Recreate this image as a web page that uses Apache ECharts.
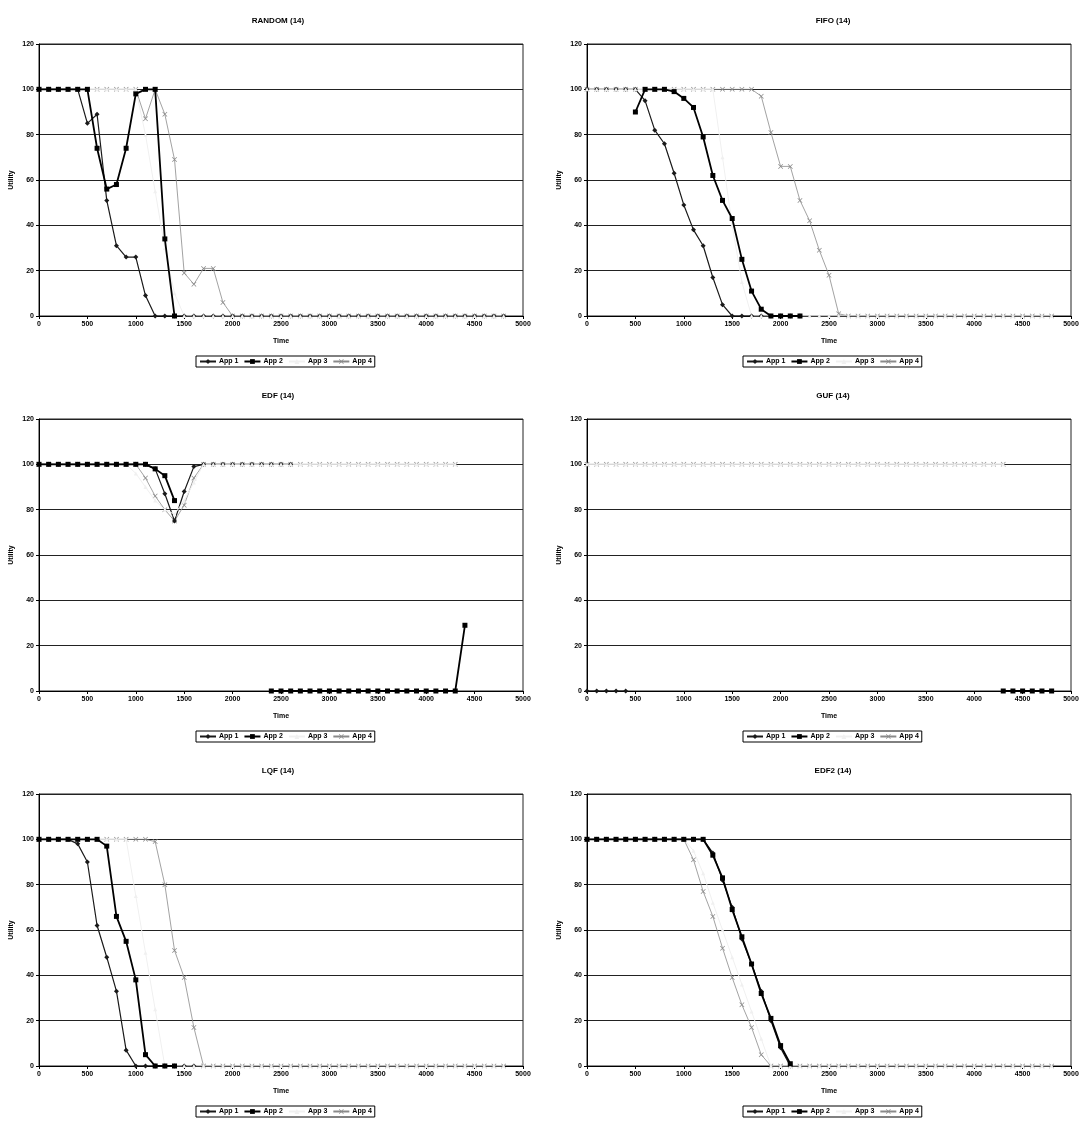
<!DOCTYPE html>
<html lang="en">
<head>
    <meta charset="UTF-8">
    <title>Utility per scheduler</title>
    <script src="https://cdn.jsdelivr.net/npm/echarts@6/dist/echarts.min.js"></script>
    <style>
        body { margin: 0; background: #fff; }
        #main { width: 1082px; height: 1122px; }
    </style>
</head>
<body>
    <div id="main"></div>

    <script>
        var N = null;

        var times = [0, 100, 200, 300, 400, 500, 600, 700, 800, 900,
            1000, 1100, 1200, 1300, 1400, 1500, 1600, 1700, 1800, 1900,
            2000, 2100, 2200, 2300, 2400, 2500, 2600, 2700, 2800, 2900,
            3000, 3100, 3200, 3300, 3400, 3500, 3600, 3700, 3800, 3900,
            4000, 4100, 4200, 4300, 4400, 4500, 4600, 4700, 4800];

        var appNames = ['App 1', 'App 2', 'App 3', 'App 4'];
        var panelTitles = ['RANDOM (14)', 'FIFO (14)', 'EDF (14)', 'GUF (14)', 'LQF (14)', 'EDF2 (14)'];

        // RANDOM
        var randomApp1 = [100, 100, 100, 100, 100, 85, 89, 51, 31, 26,
            26, 9, 0, 0, 0, 0, 0, 0, 0, 0,
            0, 0, 0, 0, 0, 0, 0, 0, 0, 0,
            0, 0, 0, 0, 0, 0, 0, 0, 0, 0,
            0, 0, 0, 0, 0, 0, 0, 0, 0];
        var randomApp2 = [100, 100, 100, 100, 100, 100, 74, 56, 58, 74,
            98, 100, 100, 34, 0, N, N, N, N, N,
            N, N, N, N, N, N, N, N, N, N,
            N, N, N, N, N, N, N, N, N, N,
            N, N, N, N, N, N, N, N, N];
        var randomApp3 = [100, 100, 100, 100, 100, 100, 100, 100, 100, 100,
            100, 80, 55, 30, 10, 0, 0, 0, 0, 0,
            0, 0, 0, 0, 0, 0, 0, 0, 0, 0,
            0, 0, 0, 0, 0, 0, 0, 0, 0, 0,
            0, 0, 0, 0, 0, 0, 0, 0, 0];
        var randomApp4 = [100, 100, 100, 100, 100, 100, 100, 100, 100, 100,
            100, 87, 100, 89, 69, 19, 14, 21, 21, 6,
            0, 0, 0, 0, 0, 0, 0, 0, 0, 0,
            0, 0, 0, 0, 0, 0, 0, 0, 0, 0,
            0, 0, 0, 0, 0, 0, 0, 0, 0];

        // FIFO
        var fifoApp1 = [100, 100, 100, 100, 100, 100, 95, 82, 76, 63,
            49, 38, 31, 17, 5, 0, 0, 0, 0, 0,
            0, 0, 0, N, N, N, N, N, N, N,
            N, N, N, N, N, N, N, N, N, N,
            N, N, N, N, N, N, N, N, N];
        var fifoApp2 = [N, N, N, N, N, 90, 100, 100, 100, 99,
            96, 92, 79, 62, 51, 43, 25, 11, 3, 0,
            0, 0, 0, N, N, N, N, N, N, N,
            N, N, N, N, N, N, N, N, N, N,
            N, N, N, N, N, N, N, N, N];
        var fifoApp3 = [100, 100, 100, 100, 100, 100, 100, 100, 100, 100,
            100, 100, 100, 100, 70, 40, 15, 0, 0, 0,
            0, 0, 0, 0, 0, 0, 0, 0, 0, 0,
            0, 0, 0, 0, 0, 0, 0, 0, 0, 0,
            0, 0, 0, 0, 0, 0, 0, 0, 0];
        var fifoApp4 = [100, 100, 100, 100, 100, 100, 100, 100, 100, 100,
            100, 100, 100, 100, 100, 100, 100, 100, 97, 81,
            66, 66, 51, 42, 29, 18, 1, 0, 0, 0,
            0, 0, 0, 0, 0, 0, 0, 0, 0, 0,
            0, 0, 0, 0, 0, 0, 0, 0, 0];

        // EDF
        var edfApp1 = [100, 100, 100, 100, 100, 100, 100, 100, 100, 100,
            100, 100, 98, 87, 75, 88, 99, 100, 100, 100,
            100, 100, 100, 100, 100, 100, 100, N, N, N,
            N, N, N, N, N, N, N, N, N, N,
            N, N, N, N, N, N, N, N, N];
        var edfApp2 = [100, 100, 100, 100, 100, 100, 100, 100, 100, 100,
            100, 100, 98, 95, 84, N, N, N, N, N,
            N, N, N, N, 0, 0, 0, 0, 0, 0,
            0, 0, 0, 0, 0, 0, 0, 0, 0, 0,
            0, 0, 0, 0, 29, N, N, N, N];
        var edfApp3 = [100, 100, 100, 100, 100, 100, 100, 100, 100, 100,
            96, 90, 84, 80, 78, 84, 92, 100, 100, 100,
            100, 100, 100, 100, 100, 100, 100, 100, 100, 100,
            100, 100, 100, 100, 100, 100, 100, 100, 100, 100,
            100, 100, 100, 100, N, N, N, N, N];
        var edfApp4 = [100, 100, 100, 100, 100, 100, 100, 100, 100, 100,
            100, 94, 86, 80, 75, 82, 94, 100, 100, 100,
            100, 100, 100, 100, 100, 100, 100, 100, 100, 100,
            100, 100, 100, 100, 100, 100, 100, 100, 100, 100,
            100, 100, 100, 100, N, N, N, N, N];

        // GUF
        var gufApp1 = [0, 0, 0, 0, 0, N, N, N, N, N,
            N, N, N, N, N, N, N, N, N, N,
            N, N, N, N, N, N, N, N, N, N,
            N, N, N, N, N, N, N, N, N, N,
            N, N, N, N, N, N, N, N, N];
        var gufApp2 = [N, N, N, N, N, N, N, N, N, N,
            N, N, N, N, N, N, N, N, N, N,
            N, N, N, N, N, N, N, N, N, N,
            N, N, N, N, N, N, N, N, N, N,
            N, N, N, 0, 0, 0, 0, 0, 0];
        var gufApp3 = [100, 100, 100, 100, 100, 100, 100, 100, 100, 100,
            100, 100, 100, 100, 100, 100, 100, 100, 100, 100,
            100, 100, 100, 100, 100, 100, 100, 100, 100, 100,
            100, 100, 100, 100, 100, 100, 100, 100, 100, 100,
            100, 100, 100, 100, N, N, N, N, N];
        var gufApp4 = [100, 100, 100, 100, 100, 100, 100, 100, 100, 100,
            100, 100, 100, 100, 100, 100, 100, 100, 100, 100,
            100, 100, 100, 100, 100, 100, 100, 100, 100, 100,
            100, 100, 100, 100, 100, 100, 100, 100, 100, 100,
            100, 100, 100, 100, N, N, N, N, N];

        // LQF
        var lqfApp1 = [100, 100, 100, 100, 98, 90, 62, 48, 33, 7,
            0, 0, 0, 0, 0, 0, 0, N, N, N,
            N, N, N, N, N, N, N, N, N, N,
            N, N, N, N, N, N, N, N, N, N,
            N, N, N, N, N, N, N, N, N];
        var lqfApp2 = [100, 100, 100, 100, 100, 100, 100, 97, 66, 55,
            38, 5, 0, 0, 0, N, N, N, N, N,
            N, N, N, N, N, N, N, N, N, N,
            N, N, N, N, N, N, N, N, N, N,
            N, N, N, N, N, N, N, N, N];
        var lqfApp3 = [100, 100, 100, 100, 100, 100, 100, 100, 100, 100,
            75, 50, 25, 0, 0, 0, 0, 0, 0, 0,
            0, 0, 0, 0, 0, 0, 0, 0, 0, 0,
            0, 0, 0, 0, 0, 0, 0, 0, 0, 0,
            0, 0, 0, 0, 0, 0, 0, 0, 0];
        var lqfApp4 = [100, 100, 100, 100, 100, 100, 100, 100, 100, 100,
            100, 100, 99, 80, 51, 39, 17, 0, 0, 0,
            0, 0, 0, 0, 0, 0, 0, 0, 0, 0,
            0, 0, 0, 0, 0, 0, 0, 0, 0, 0,
            0, 0, 0, 0, 0, 0, 0, 0, 0];

        // EDF2
        var edf2App1 = [100, 100, 100, 100, 100, 100, 100, 100, 100, 100,
            100, 100, 100, 94, 82, 70, 56, 45, 33, 20,
            8, 0, N, N, N, N, N, N, N, N,
            N, N, N, N, N, N, N, N, N, N,
            N, N, N, N, N, N, N, N, N];
        var edf2App2 = [100, 100, 100, 100, 100, 100, 100, 100, 100, 100,
            100, 100, 100, 93, 83, 69, 57, 45, 32, 21,
            9, 1, N, N, N, N, N, N, N, N,
            N, N, N, N, N, N, N, N, N, N,
            N, N, N, N, N, N, N, N, N];
        var edf2App3 = [100, 100, 100, 100, 100, 100, 100, 100, 100, 100,
            100, 95, 85, 72, 60, 48, 36, 24, 12, 0,
            0, 0, 0, 0, 0, 0, 0, 0, 0, 0,
            0, 0, 0, 0, 0, 0, 0, 0, 0, 0,
            0, 0, 0, 0, 0, 0, 0, 0, 0];
        var edf2App4 = [100, 100, 100, 100, 100, 100, 100, 100, 100, 100,
            100, 91, 77, 66, 52, 39, 27, 17, 5, 0,
            0, 0, 0, 0, 0, 0, 0, 0, 0, 0,
            0, 0, 0, 0, 0, 0, 0, 0, 0, 0,
            0, 0, 0, 0, 0, 0, 0, 0, 0];

        var panelData = [
            [randomApp1, randomApp2, randomApp3, randomApp4],
            [fifoApp1, fifoApp2, fifoApp3, fifoApp4],
            [edfApp1, edfApp2, edfApp3, edfApp4],
            [gufApp1, gufApp2, gufApp3, gufApp4],
            [lqfApp1, lqfApp2, lqfApp3, lqfApp4],
            [edf2App1, edf2App2, edf2App3, edf2App4]
        ];

        var FONT = '"Liberation Sans", Arial, sans-serif';
        var X_MARK = 'path://M0,1L1,0L5,4L9,0L10,1L6,5L10,9L9,10L5,6L1,10L0,9L4,5Z';

        // look of each app line (scan of an excel chart, so all greys)
        var appStyle = [
            {color: '#1a1a1a', width: 1.2, symbol: 'diamond', size: 5},
            {color: '#000000', width: 1.8, symbol: 'rect', size: 5},
            {color: '#f0f0f0', width: 1, symbol: 'triangle', size: 4},
            {color: '#8a8a8a', width: 0.8, symbol: X_MARK, size: 5}
        ];

        var gridLefts = [39, 587];
        var gridTops = [44, 419, 794];
        var titleCenters = [273, 828];
        var legendLefts = [196, 743];
        var gridW = 484, gridH = 272;

        var labelStyle = {fontSize: 7, fontWeight: 'bold', color: '#000', fontFamily: FONT};

        var option = {
            animation: false,
            backgroundColor: '#fff',
            title: [], grid: [], xAxis: [], yAxis: [], legend: [], series: []
        };

        function plain(v) { return String(v); }

        panelTitles.forEach(function (t, k) {
            var col = k % 2, row = Math.floor(k / 2);
            var left = gridLefts[col], top = gridTops[row];

            option.title.push({
                text: t, left: titleCenters[col], top: top - 32, textAlign: 'center',
                textStyle: {fontSize: 8, fontWeight: 'bold', color: '#000', fontFamily: FONT}
            });
            option.grid.push({
                left: left, top: top, width: gridW, height: gridH,
                show: true, borderColor: '#222', borderWidth: 1
            });
            option.xAxis.push({
                type: 'value', gridIndex: k, min: 0, max: 5000, interval: 500,
                name: 'Time', nameLocation: 'middle', nameGap: 22, nameTextStyle: labelStyle,
                axisLine: {show: true, lineStyle: {color: '#000', width: 1}},
                axisTick: {show: true, length: 3, lineStyle: {color: '#000'}},
                axisLabel: Object.assign({margin: 5, formatter: plain}, labelStyle),
                splitLine: {show: false}
            });
            option.yAxis.push({
                type: 'value', gridIndex: k, min: 0, max: 120, interval: 20,
                name: 'Utility', nameLocation: 'middle', nameGap: 24, nameRotate: 90, nameTextStyle: labelStyle,
                axisLine: {show: true, lineStyle: {color: '#000', width: 1}},
                axisTick: {show: true, length: 3, lineStyle: {color: '#000'}},
                axisLabel: Object.assign({margin: 5, formatter: plain}, labelStyle),
                splitLine: {show: true, lineStyle: {color: '#222', width: 1}}
            });
            option.legend.push({
                data: appNames, left: legendLefts[col], top: top + gridH + 40,
                orient: 'horizontal', itemWidth: 16, itemHeight: 6, itemGap: 5,
                padding: [2, 3], borderColor: '#000', borderWidth: 1,
                selectedMode: false,
                textStyle: {fontSize: 7, fontWeight: 'bold', color: '#000', fontFamily: FONT, padding: [0, 0, 0, -2]}
            });

            panelData[k].forEach(function (vals, j) {
                var s = appStyle[j];
                option.series.push({
                    name: appNames[j], type: 'line',
                    xAxisIndex: k, yAxisIndex: k,
                    data: times.map(function (tm, i) { return [tm, vals[i] === null ? '-' : vals[i]]; }),
                    symbol: s.symbol, symbolSize: s.size, showAllSymbol: true,
                    lineStyle: {color: s.color, width: s.width},
                    itemStyle: {color: s.color},
                    z: j === 3 ? 2 : 3 + (j === 1 ? 1 : 0)
                });
            });
        });

        var myChart = echarts.init(document.getElementById('main'));
        myChart.setOption(option);
    </script>
</body>
</html>
